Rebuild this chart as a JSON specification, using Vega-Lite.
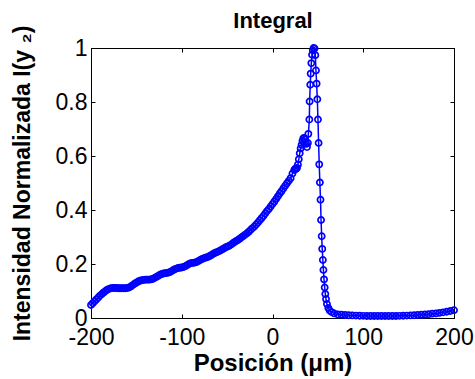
{
  "$schema": "https://vega.github.io/schema/vega-lite/v6.json",
  "width": 363,
  "height": 270,
  "autosize": {"type": "none"},
  "padding": {"left": 91, "top": 48, "right": 21, "bottom": 61},
  "background": "white",
  "config": {
    "view": {"stroke": "black", "strokeWidth": 1},
    "axis": {"grid": false, "domainColor": "black", "tickColor": "black", "labelColor": "black", "titleColor": "black", "labelFont": "Liberation Sans", "titleFont": "Liberation Sans", "labelFontSize": 23, "labelFlush": false, "labelOverlap": false, "labelBound": false, "tickSize": -4}
  },
  "data": {"values": [
    {"x": -200, "y": 0.048}, {"x": -198, "y": 0.055}, {"x": -196, "y": 0.062}, {"x": -194, "y": 0.069}, {"x": -192, "y": 0.076},
    {"x": -190, "y": 0.083}, {"x": -188, "y": 0.089}, {"x": -186, "y": 0.095}, {"x": -184, "y": 0.100}, {"x": -182, "y": 0.105},
    {"x": -180, "y": 0.108}, {"x": -178, "y": 0.110}, {"x": -176, "y": 0.111}, {"x": -174, "y": 0.111}, {"x": -172, "y": 0.111},
    {"x": -170, "y": 0.110}, {"x": -168, "y": 0.110}, {"x": -166, "y": 0.110}, {"x": -164, "y": 0.110}, {"x": -162, "y": 0.110},
    {"x": -160, "y": 0.111}, {"x": -158, "y": 0.113}, {"x": -156, "y": 0.117}, {"x": -154, "y": 0.122}, {"x": -152, "y": 0.127},
    {"x": -150, "y": 0.131}, {"x": -148, "y": 0.135}, {"x": -146, "y": 0.138}, {"x": -144, "y": 0.140}, {"x": -142, "y": 0.141},
    {"x": -140, "y": 0.142}, {"x": -138, "y": 0.142}, {"x": -136, "y": 0.142}, {"x": -134, "y": 0.143}, {"x": -132, "y": 0.145},
    {"x": -130, "y": 0.148}, {"x": -128, "y": 0.152}, {"x": -126, "y": 0.156}, {"x": -124, "y": 0.160}, {"x": -122, "y": 0.163},
    {"x": -120, "y": 0.165}, {"x": -118, "y": 0.166}, {"x": -116, "y": 0.167}, {"x": -114, "y": 0.169}, {"x": -112, "y": 0.172},
    {"x": -110, "y": 0.176}, {"x": -108, "y": 0.180}, {"x": -106, "y": 0.183}, {"x": -104, "y": 0.185}, {"x": -102, "y": 0.186},
    {"x": -100, "y": 0.187}, {"x": -98, "y": 0.189}, {"x": -96, "y": 0.192}, {"x": -94, "y": 0.196}, {"x": -92, "y": 0.200},
    {"x": -90, "y": 0.203}, {"x": -88, "y": 0.204}, {"x": -86, "y": 0.205}, {"x": -84, "y": 0.207}, {"x": -82, "y": 0.210},
    {"x": -80, "y": 0.214}, {"x": -78, "y": 0.218}, {"x": -76, "y": 0.221}, {"x": -74, "y": 0.223}, {"x": -72, "y": 0.225},
    {"x": -70, "y": 0.228}, {"x": -68, "y": 0.232}, {"x": -66, "y": 0.236}, {"x": -64, "y": 0.240}, {"x": -62, "y": 0.243},
    {"x": -60, "y": 0.246}, {"x": -58, "y": 0.249}, {"x": -56, "y": 0.253}, {"x": -54, "y": 0.257}, {"x": -52, "y": 0.261},
    {"x": -50, "y": 0.264}, {"x": -48, "y": 0.267}, {"x": -46, "y": 0.271}, {"x": -44, "y": 0.276}, {"x": -42, "y": 0.281},
    {"x": -40, "y": 0.285}, {"x": -38, "y": 0.289}, {"x": -36, "y": 0.294}, {"x": -34, "y": 0.299}, {"x": -32, "y": 0.304},
    {"x": -30, "y": 0.309}, {"x": -28, "y": 0.314}, {"x": -26, "y": 0.320}, {"x": -24, "y": 0.327}, {"x": -22, "y": 0.333},
    {"x": -20, "y": 0.339}, {"x": -18, "y": 0.346}, {"x": -16, "y": 0.354}, {"x": -14, "y": 0.362}, {"x": -12, "y": 0.370},
    {"x": -10, "y": 0.378}, {"x": -8, "y": 0.387}, {"x": -6, "y": 0.396}, {"x": -4, "y": 0.404}, {"x": -2, "y": 0.413},
    {"x": 0, "y": 0.422}, {"x": 2, "y": 0.431}, {"x": 4, "y": 0.441}, {"x": 6, "y": 0.451}, {"x": 8, "y": 0.461},
    {"x": 10, "y": 0.470}, {"x": 12, "y": 0.480}, {"x": 14, "y": 0.490}, {"x": 16, "y": 0.499}, {"x": 18, "y": 0.508},
    {"x": 20, "y": 0.518}, {"x": 22, "y": 0.535}, {"x": 24, "y": 0.548}, {"x": 25, "y": 0.553}, {"x": 26, "y": 0.552},
    {"x": 27, "y": 0.556}, {"x": 28, "y": 0.568}, {"x": 29, "y": 0.588}, {"x": 30, "y": 0.610}, {"x": 31, "y": 0.628},
    {"x": 32, "y": 0.641}, {"x": 33, "y": 0.655}, {"x": 34, "y": 0.666}, {"x": 35, "y": 0.667}, {"x": 36, "y": 0.662},
    {"x": 37, "y": 0.645}, {"x": 38, "y": 0.633}, {"x": 39, "y": 0.648}, {"x": 39.5, "y": 0.682}, {"x": 40.6, "y": 0.735},
    {"x": 40.9, "y": 0.802}, {"x": 41.6, "y": 0.864}, {"x": 42.1, "y": 0.905}, {"x": 42.8, "y": 0.944}, {"x": 43.6, "y": 0.975},
    {"x": 44.4, "y": 0.992}, {"x": 45.3, "y": 1.0}, {"x": 46.4, "y": 0.998}, {"x": 47.2, "y": 0.973}, {"x": 47.9, "y": 0.917},
    {"x": 48.6, "y": 0.868}, {"x": 49.4, "y": 0.81}, {"x": 50.1, "y": 0.735}, {"x": 50.8, "y": 0.648}, {"x": 51.5, "y": 0.569},
    {"x": 52.2, "y": 0.502}, {"x": 52.9, "y": 0.438}, {"x": 53.5, "y": 0.363}, {"x": 54.2, "y": 0.303}, {"x": 54.8, "y": 0.256},
    {"x": 55.5, "y": 0.215}, {"x": 56.1, "y": 0.178}, {"x": 56.8, "y": 0.143}, {"x": 57.5, "y": 0.113}, {"x": 58.2, "y": 0.089},
    {"x": 59.0, "y": 0.070}, {"x": 60.0, "y": 0.052}, {"x": 61.5, "y": 0.037}, {"x": 63.0, "y": 0.028}, {"x": 65.0, "y": 0.022},
    {"x": 68, "y": 0.017}, {"x": 72, "y": 0.013}, {"x": 76, "y": 0.012}, {"x": 80, "y": 0.011}, {"x": 84, "y": 0.010},
    {"x": 88, "y": 0.0095}, {"x": 92, "y": 0.009}, {"x": 96, "y": 0.0085}, {"x": 100, "y": 0.008}, {"x": 104, "y": 0.0075},
    {"x": 108, "y": 0.0075}, {"x": 112, "y": 0.0075}, {"x": 116, "y": 0.0075}, {"x": 120, "y": 0.0075}, {"x": 124, "y": 0.0075},
    {"x": 128, "y": 0.0075}, {"x": 132, "y": 0.0075}, {"x": 136, "y": 0.0075}, {"x": 140, "y": 0.008}, {"x": 144, "y": 0.0085},
    {"x": 148, "y": 0.009}, {"x": 152, "y": 0.0095}, {"x": 156, "y": 0.010}, {"x": 160, "y": 0.011}, {"x": 164, "y": 0.012},
    {"x": 168, "y": 0.013}, {"x": 172, "y": 0.014}, {"x": 176, "y": 0.016}, {"x": 180, "y": 0.017}, {"x": 184, "y": 0.019},
    {"x": 188, "y": 0.021}, {"x": 192, "y": 0.023}, {"x": 196, "y": 0.026}, {"x": 200, "y": 0.029}
  ]},
  "resolve": {"axis": {"x": "independent", "y": "independent"}},
  "layer": [
    {
      "mark": {"type": "line", "color": "#0000ff", "strokeWidth": 1.5},
      "encoding": {
        "x": {"field": "x", "type": "quantitative", "scale": {"domain": [-200, 200], "nice": false},
          "axis": {"orient": "bottom", "values": [-200, -100, 0, 100, 200], "labelExpr": "datum.value < 0 ? '-' + abs(datum.value) : '' + datum.value", "labelBaseline": "alphabetic", "labelPadding": 30,
            "title": "Posición (μm)", "titleFontSize": 24, "titleFontWeight": "bold", "titleBaseline": "alphabetic", "titleY": 52}},
        "y": {"field": "y", "type": "quantitative", "scale": {"domain": [0, 1], "nice": false},
          "axis": {"orient": "left", "values": [0, 0.2, 0.4, 0.6, 0.8, 1], "format": "~g", "labelPadding": 8,
            "title": "Intensidad Normalizada I(y ₂)", "titleFontSize": 23, "titleFontWeight": "bold", "titleBaseline": "alphabetic", "titleX": -62, "titleAngle": -90}}
      }
    },
    {
      "mark": {"type": "point", "shape": "circle", "filled": false, "color": "#0000ff", "size": 38, "strokeWidth": 1.7, "opacity": 1},
      "encoding": {
        "x": {"field": "x", "type": "quantitative", "axis": null},
        "y": {"field": "y", "type": "quantitative", "axis": null}
      }
    },
    {
      "mark": {"type": "point", "opacity": 0},
      "encoding": {
        "x": {"field": "x", "type": "quantitative", "axis": {"orient": "top", "values": [-200, -100, 0, 100, 200], "labels": false,
          "title": "Integral", "titleFontSize": 22, "titleFontWeight": "bold", "titleBaseline": "alphabetic", "titleY": -20.5, "titleAngle": 0}},
        "y": {"field": "y", "type": "quantitative", "axis": {"orient": "right", "values": [0, 0.2, 0.4, 0.6, 0.8, 1], "labels": false, "title": null}}
      }
    }
  ]
}
